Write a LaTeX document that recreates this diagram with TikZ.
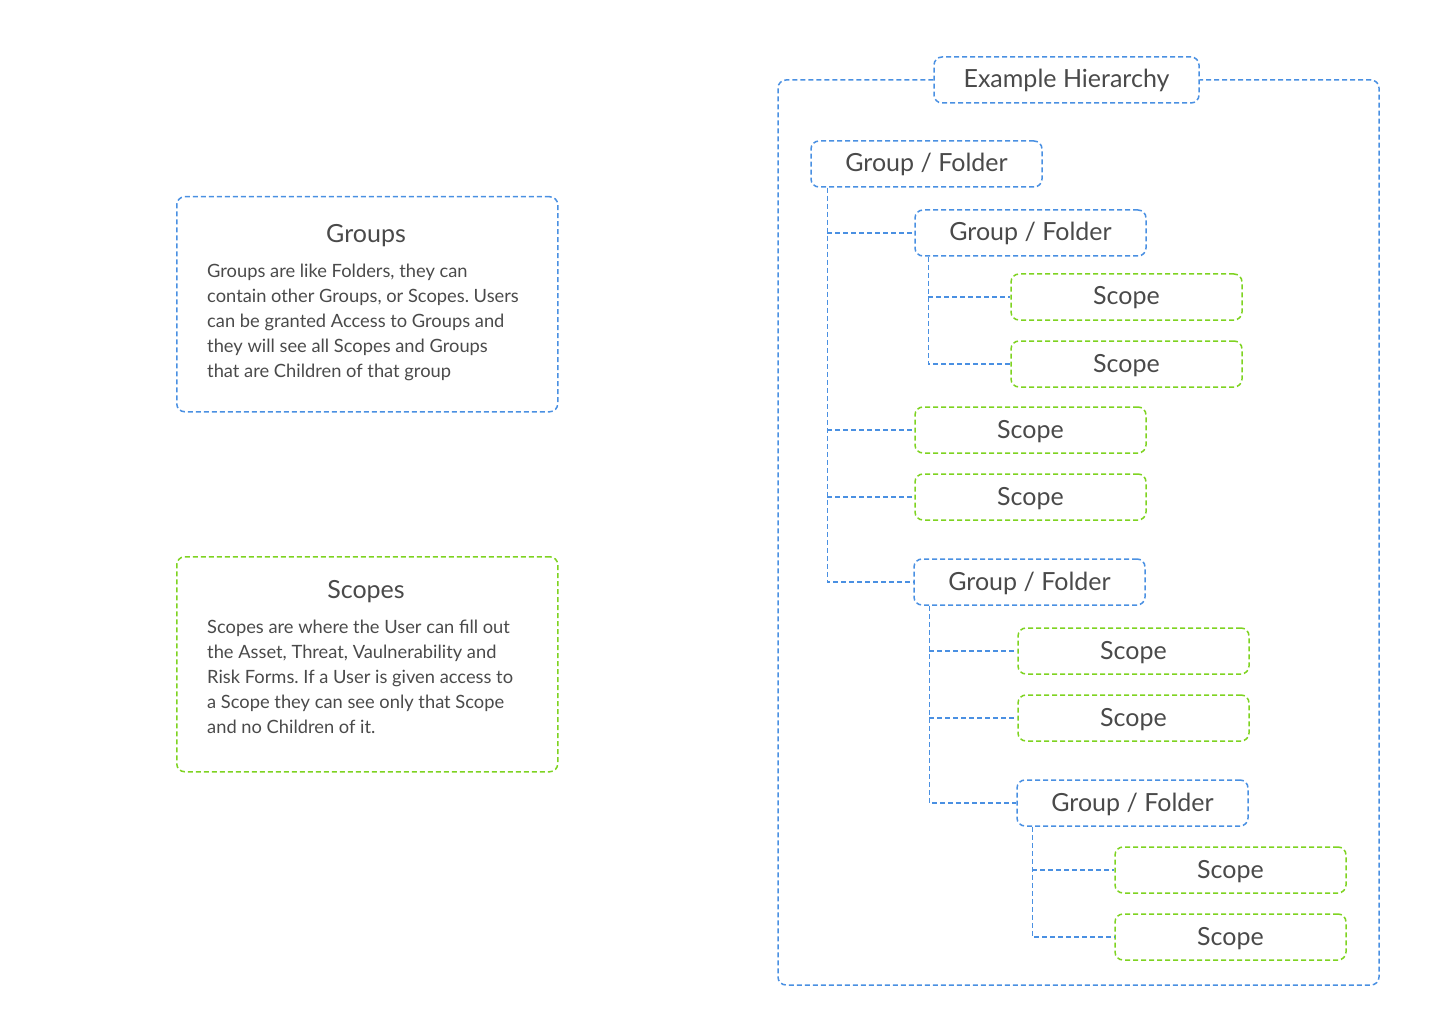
\documentclass[tikz,border=0pt]{standalone}
\usepackage{fontspec}
\setmainfont{Lato}
\frenchspacing
\definecolor{bl}{HTML}{4A90E2}
\definecolor{gr}{HTML}{7ED321}
\definecolor{tx}{HTML}{4A4A4A}
\begin{document}
\begin{tikzpicture}[x=1pt,y=-1pt,
  dsh/.style={line width=1.5pt,dash pattern=on 5pt off 3pt},
  gbox/.style={draw=bl,dsh,rounded corners=8pt,minimum width=231pt,minimum height=46pt,inner sep=0pt,text=tx,font=\fontsize{25}{30}\selectfont,text height=18pt,text depth=2pt},
  sbox/.style={gbox,draw=gr},
  conn/.style={draw=bl,dsh},
  ttl/.style={text=tx,font=\fontsize{25}{30}\selectfont,inner sep=0pt},
  body/.style={text=tx,font=\fontsize{18.3}{25}\selectfont,align=left,inner sep=0pt,anchor=north west}]
\useasboundingbox (0,0) rectangle (1440,1024);
% left legend boxes
\node[draw=bl,dsh,rounded corners=8pt,minimum width=381pt,minimum height=215pt,anchor=north west] (gl) at (176,196) {};
\node[ttl] (glt) at (366,236) {Groups};
\node[body] (glb) at (207,264) {Groups are like Folders, they can\\contain other Groups, or Scopes. Users\\can be granted Access to Groups and\\they will see all Scopes and Groups\\that are Children of that group};
\node[draw=gr,dsh,rounded corners=8pt,minimum width=381pt,minimum height=215pt,anchor=north west] (sl) at (176,556) {};
\node[ttl] (slt) at (366,592) {Scopes};
\node[body] (slb) at (207,620) {Scopes are where the User can fill out\\the Asset, Threat, Vaulnerability and\\Risk Forms. If a User is given access to\\a Scope they can see only that Scope\\and no Children of it.};
% hierarchy
\node[gbox,minimum width=265pt] (eh) at (1066.5,80) {Example Hierarchy};
\coordinate (fl) at (778,80);
\coordinate (fb) at (778,985);
\coordinate (fr) at (1379,985);
\coordinate (ft) at (1379,80);
\draw[conn,rounded corners=8pt] (eh.west) -- (fl) -- (fb) -- (fr) -- (ft) -- (eh.east);
\node[gbox] (g1) at (926.5,164) {Group / Folder};
\node[gbox] (g2) at (1030.5,233) {Group / Folder};
\node[sbox] (s1) at (1126.5,297) {Scope};
\node[sbox] (s2) at (1126.5,364) {Scope};
\node[sbox] (s3) at (1030.5,430) {Scope};
\node[sbox] (s4) at (1030.5,497) {Scope};
\node[gbox] (g3) at (1029.5,582) {Group / Folder};
\node[sbox] (s5) at (1133.5,651) {Scope};
\node[sbox] (s6) at (1133.5,718) {Scope};
\node[gbox] (g4) at (1132.5,803) {Group / Folder};
\node[sbox] (s7) at (1230.5,870) {Scope};
\node[sbox] (s8) at (1230.5,937) {Scope};
% connectors
\coordinate (c1) at ([xshift=17pt]g1.south west);
\coordinate (c2) at ([xshift=14pt]g2.south west);
\coordinate (c3) at ([xshift=16pt]g3.south west);
\coordinate (c4) at ([xshift=16pt]g4.south west);
\draw[conn] (c1) |- (g3.west);
\draw[conn] (c1 |- g2.west) -- (g2.west);
\draw[conn] (c1 |- s3.west) -- (s3.west);
\draw[conn] (c1 |- s4.west) -- (s4.west);
\draw[conn] (c2) |- (s2.west);
\draw[conn] (c2 |- s1.west) -- (s1.west);
\draw[conn] (c3) |- (g4.west);
\draw[conn] (c3 |- s5.west) -- (s5.west);
\draw[conn] (c3 |- s6.west) -- (s6.west);
\draw[conn] (c4) |- (s8.west);
\draw[conn] (c4 |- s7.west) -- (s7.west);
\end{tikzpicture}
\end{document}
